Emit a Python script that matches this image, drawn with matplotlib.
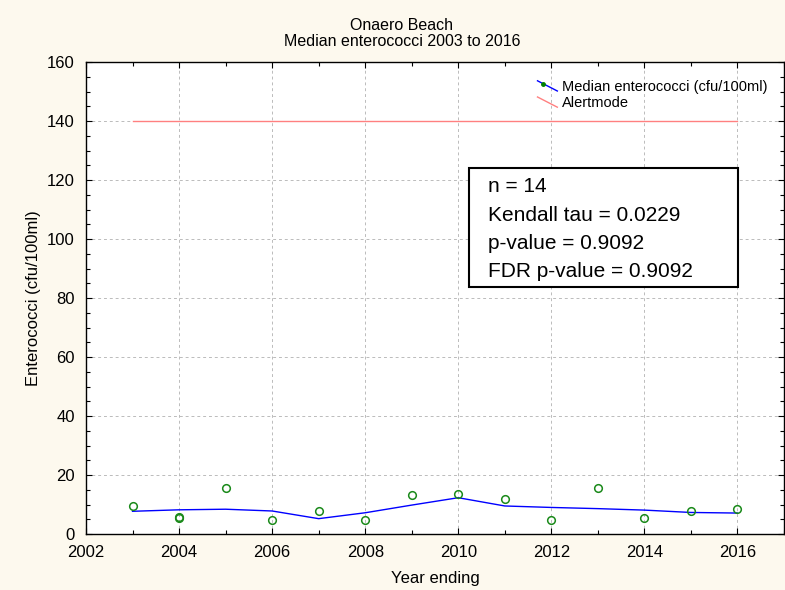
import matplotlib
matplotlib.use("Agg")
import matplotlib.pyplot as plt
from matplotlib.lines import Line2D
from matplotlib.patches import Rectangle
from matplotlib.legend_handler import HandlerLine2D
from matplotlib.ticker import MultipleLocator

plt.rcParams['font.family'] = ['Liberation Sans', 'DejaVu Sans']

# Data
point_years = [2003, 2004, 2004, 2005, 2006, 2007, 2008, 2009, 2010, 2011, 2012, 2013, 2014, 2015, 2016]
point_values = [9.4, 5.4, 5.8, 15.7, 4.6, 7.8, 4.6, 13.3, 13.4, 11.8, 4.6, 15.7, 5.4, 7.9, 8.6]
smooth_years = [2003, 2004, 2005, 2006, 2007, 2008, 2009, 2010, 2011, 2012, 2013, 2014, 2015, 2016]
smooth_values = [7.7, 8.2, 8.4, 7.8, 5.2, 7.2, 9.8, 12.3, 9.5, 9.0, 8.6, 8.1, 7.3, 7.1]
alert_years = [2003, 2016]
alert_values = [140, 140]
stats_lines = ["n = 14", "Kendall tau = 0.0229", "p-value = 0.9092", "FDR p-value = 0.9092"]
x_ticks = [2002, 2004, 2006, 2008, 2010, 2012, 2014, 2016]


class DiagHandler(HandlerLine2D):
    def __init__(self, with_dot=False, **kw):
        super().__init__(**kw)
        self.with_dot = with_dot

    def create_artists(self, legend, orig_handle, xdescent, ydescent, width, height, fontsize, trans):
        x0 = width * 0.15
        line = Line2D([x0, width], [height * 1.0, 0.0],
                      color=orig_handle.get_color(), lw=orig_handle.get_linewidth())
        line.set_transform(trans)
        arts = [line]
        if self.with_dot:
            dot = Line2D([x0 + (width - x0) * 0.3], [height * 0.7], marker='o', ms=2.5,
                         color='green', ls='none')
            dot.set_transform(trans)
            arts.append(dot)
        return arts


fig = plt.figure(figsize=(7.85, 5.9), dpi=100, facecolor='#FDF9EE')
ax = fig.add_axes([86 / 785, 1 - 534 / 590, 698 / 785, 472 / 590])
ax.set_facecolor('white')

ax.plot(point_years, point_values, ls='none', marker='o', ms=5.5, mfc='none',
        mec='#1a8a1a', mew=1.1, zorder=3)
smooth_line, = ax.plot(smooth_years, smooth_values, color='#0000ff', lw=1.0, zorder=2)
alert_line, = ax.plot(alert_years, alert_values, color='#ff8080', lw=1.0, zorder=2)

ax.set_xlim(2002, 2017)
ax.set_ylim(0, 160)
ax.set_xticks(x_ticks)
ax.xaxis.set_minor_locator(MultipleLocator(1))
ax.yaxis.set_major_locator(MultipleLocator(20))
ax.yaxis.set_minor_locator(MultipleLocator(5))
ax.tick_params(which='both', direction='in', top=True, right=True, labelsize=12, pad=8)
ax.tick_params(which='major', length=4, width=0.8)
ax.tick_params(which='minor', length=3, width=0.8)
ax.grid(True, which='major', ls=(0, (3, 3)), color='#bbbbbb', lw=0.7)
for s in ax.spines.values():
    s.set_linewidth(1.0)

ax.set_xlabel("Year ending", fontsize=12, labelpad=8)
ax.set_ylabel("Enterococci (cfu/100ml)", fontsize=12, labelpad=4)
fig.text(402 / 785, 1 - 25 / 590, "Onaero Beach", ha='center', va='center', fontsize=11.5)
fig.text(402 / 785, 1 - 42 / 590, "Median enterococci 2003 to 2016", ha='center', va='center', fontsize=11.5)

leg = ax.legend([smooth_line, alert_line],
                ["Median enterococci (cfu/100ml)", "Alertmode"],
                handler_map={smooth_line: DiagHandler(with_dot=True), alert_line: DiagHandler()},
                loc='upper left', bbox_to_anchor=((534 - 86) / 698, (534 - 80) / 472), frameon=False,
                fontsize=10.5, handlelength=1.6, handletextpad=0.35, labelspacing=0.15,
                borderaxespad=0, borderpad=0)

# statistics box
ax.add_patch(Rectangle(((469 - 86) / 698, (534 - 287) / 472), (738 - 469) / 698, (287 - 168) / 472,
                       transform=ax.transAxes, fc='white', ec='black', lw=1.5, zorder=4))
for i, s in enumerate(stats_lines):
    ax.text((488 - 86) / 698, (534 - (187 + 28.3 * i)) / 472, s, transform=ax.transAxes,
            fontsize=15, va='center', ha='left', zorder=5)

fig.savefig("out.png", dpi=100, facecolor=fig.get_facecolor())
